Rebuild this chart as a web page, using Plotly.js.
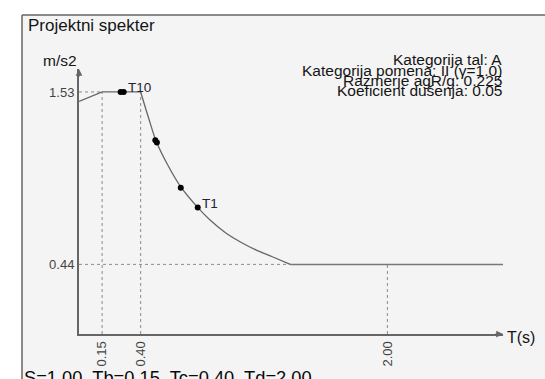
<!DOCTYPE html>
<html>
<head>
<meta charset="utf-8">
<script src="https://cdn.plot.ly/plotly-3.0.1.min.js"></script>
<style>html,body{margin:0;padding:0;background:#fff;}#chart{width:545px;height:379px;}</style>
</head>
<body>
<div id="chart"></div>
<script>
// ---- data ----
const specT  = [0.00, 0.15, 0.40, 0.45, 0.50, 0.58, 0.66, 0.77, 0.85, 0.95, 1.05, 1.15, 1.25, 1.37, 2.75];
const specSd = [1.47, 1.53, 1.53, 1.37, 1.22, 1.06, 0.93, 0.80, 0.72, 0.64, 0.58, 0.53, 0.49, 0.44, 0.44];
const modeT  = [0.27, 0.29, 0.495, 0.505, 0.66, 0.77];
const modeSd = [1.53, 1.53, 1.225, 1.21, 0.925, 0.80];
const modeLabels = ['', 'T10', '', '', '', 'T1'];
const cornerT = [0.15, 0.40, 2.00];
const cornerTicks = ['0.15', '0.40', '2.00'];
const cornerTop = [1.53, 1.53, 0.44];
const levelSd = [1.53, 0.44];
const levelTicks = ['1.53', '0.44'];
const levelEnd = [0.15, 1.37];
const infoLines = ['Kategorija tal: A', 'Kategorija pomena: II (γ=1.0)', 'Razmerje agR/g: 0.225', 'Koeficient dušenja: 0.05'];
const titleText = 'Projektni spekter';
const yUnit = 'm/s2';
const xUnit = 'T(s)';
const footerText = 'S=1.00, Tb=0.15, Tc=0.40, Td=2.00';

const FONT = 'Liberation Sans, Arial, sans-serif';
const TXT = '#151515';
const W = 545, H = 379, ML = 79, MR = 42, MT = 69, MB = 45;
const PW = W - ML - MR, PH = H - MT - MB;
const px2x = p => (p - ML) / PW;
const py2y = p => (H - MB - p) / PH;

const traces = [];
// dashed guide lines
cornerT.forEach((t, i) => traces.push({x: [t, t], y: [0, cornerTop[i]], mode: 'lines',
  line: {color: '#8a8a8a', width: 1, dash: 'dot'}, hoverinfo: 'skip'}));
levelSd.forEach((v, i) => traces.push({x: [0, levelEnd[i]], y: [v, v], mode: 'lines',
  line: {color: '#8a8a8a', width: 1, dash: 'dot'}, hoverinfo: 'skip'}));
// spectrum: rising + plateau, descending branch, lower bound
const iC = specT.indexOf(0.40), iD = specSd.indexOf(0.44);
traces.push({x: specT.slice(0, iC + 1), y: specSd.slice(0, iC + 1), mode: 'lines',
  line: {color: '#666', width: 1.3}});
traces.push({x: specT.slice(iC, iD + 1), y: specSd.slice(iC, iD + 1), mode: 'lines',
  line: {color: '#666', width: 1.3, shape: 'spline', smoothing: 0.8}});
traces.push({x: specT.slice(iD), y: specSd.slice(iD), mode: 'lines',
  line: {color: '#777', width: 1.5}});
// modes
traces.push({x: modeT, y: modeSd, mode: 'markers', marker: {color: '#000', size: 6}});

const annotations = [];
modeT.forEach((t, i) => { if (modeLabels[i]) annotations.push({x: t, y: modeSd[i], text: modeLabels[i],
  showarrow: false, xanchor: 'left', yanchor: 'middle', xshift: 2, yshift: 4,
  font: {family: FONT, size: 13.5, color: '#223'}}); });
// axis arrows
annotations.push({x: 0, y: 1.675, ax: 0, ay: 9, text: '', showarrow: true, arrowhead: 2,
  arrowsize: 0.9, arrowwidth: 1.5, arrowcolor: '#666'});
annotations.push({x: 2.75, y: 0, ax: -9, ay: 0, text: '', showarrow: true, arrowhead: 2,
  arrowsize: 0.9, arrowwidth: 1.5, arrowcolor: '#666'});
annotations.push({x: 2.75, y: 0, text: xUnit, showarrow: false, xanchor: 'left', yanchor: 'middle',
  xshift: 2, yshift: -3, font: {family: FONT, size: 16, color: TXT}});
annotations.push({xref: 'paper', yref: 'paper', x: px2x(78.5), y: py2y(60), text: yUnit, showarrow: false,
  xanchor: 'right', yanchor: 'middle', font: {family: FONT, size: 15.5, color: TXT}});
// title and footer
annotations.push({xref: 'paper', yref: 'paper', x: px2x(25.5), y: py2y(25), text: titleText, showarrow: false,
  xanchor: 'left', yanchor: 'middle', font: {family: FONT, size: 17, color: TXT}});
annotations.push({xref: 'paper', yref: 'paper', x: px2x(22), y: py2y(377), text: footerText, showarrow: false,
  xanchor: 'left', yanchor: 'middle', font: {family: FONT, size: 18.3, color: '#0a0a0a'}});
// info block (tightly stacked lines as in the original)
const infoY = [59.5, 70, 80, 90];
infoLines.forEach((s, i) => annotations.push({xref: 'paper', yref: 'paper', x: 1.002, y: py2y(infoY[i]), text: s,
  showarrow: false, xanchor: 'right', yanchor: 'middle', font: {family: FONT, size: 15.5, color: TXT}}));

const layout = {
  width: W, height: H,
  margin: {l: ML, r: MR, t: MT, b: MB, pad: 0},
  paper_bgcolor: '#ffffff', plot_bgcolor: 'rgba(0,0,0,0)',
  showlegend: false,
  font: {family: FONT, color: '#444'},
  xaxis: {range: [0, 2.75], showgrid: false, zeroline: false, showline: true, linecolor: '#666', linewidth: 2,
    tickmode: 'array', tickvals: cornerT, ticktext: cornerTicks, tickangle: -90, ticks: '',
    tickfont: {family: FONT, size: 13, color: '#444'}, fixedrange: true},
  yaxis: {range: [0, 1.675], showgrid: false, zeroline: false, showline: true, linecolor: '#666', linewidth: 2,
    tickmode: 'array', tickvals: levelSd, ticktext: levelTicks, ticks: '',
    tickfont: {family: FONT, size: 13, color: '#444'}, fixedrange: true},
  shapes: [
    {type: 'rect', xref: 'paper', yref: 'paper', x0: px2x(22), x1: px2x(560), y0: py2y(15), y1: py2y(400),
      fillcolor: '#f4f4f4', line: {width: 0}, layer: 'below'},
    {type: 'line', xref: 'paper', yref: 'paper', x0: px2x(22), x1: px2x(560), y0: py2y(15), y1: py2y(15),
      line: {color: '#666', width: 1.5}, layer: 'below'},
    {type: 'line', xref: 'paper', yref: 'paper', x0: px2x(22), x1: px2x(22), y0: py2y(15), y1: py2y(400),
      line: {color: '#666', width: 1.5}, layer: 'below'}
  ],
  annotations: annotations
};
Plotly.newPlot('chart', traces, layout, {displayModeBar: false, staticPlot: true});
</script>
</body>
</html>
